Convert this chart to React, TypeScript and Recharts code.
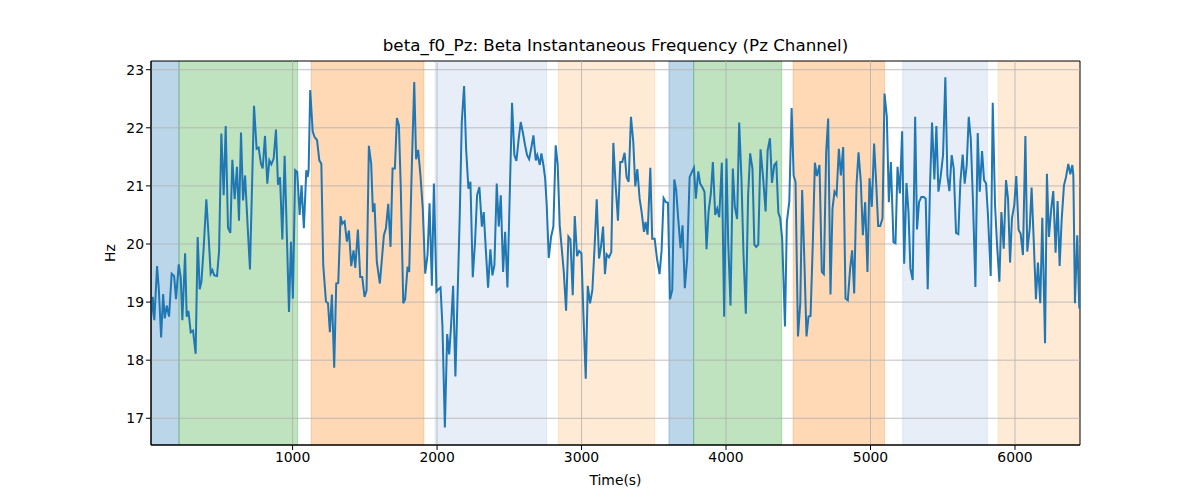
import React from 'react';
import { LineChart, Line, XAxis, YAxis, ReferenceLine, ReferenceArea } from 'recharts';

// time (s) and beta instantaneous frequency (Hz)
const times = [
  20, 32, 43, 62, 74, 90, 104, 115, 129, 145, 163, 180, 193, 212, 226, 237, 256, 267, 279, 295,
  311, 329, 343, 357, 369, 385, 403, 419, 433, 445, 458, 477, 491, 507, 523, 537, 553, 569, 583, 599,
  615, 629, 643, 657, 671, 691, 705, 733, 751, 765, 781, 793, 809, 825, 839, 853, 869, 885, 899, 913,
  929, 945, 975, 989, 1002, 1018, 1032, 1049, 1062, 1078,
  1095, 1104, 1111, 1122, 1139, 1152, 1169, 1185, 1199, 1212, 1231, 1245, 1258, 1272, 1288, 1302, 1316, 1332, 1344, 1360,
  1376, 1390, 1406, 1422, 1434, 1452, 1468, 1482, 1498, 1512, 1528, 1544, 1556, 1567, 1583, 1604, 1632, 1646, 1662, 1678,
  1692, 1708, 1722, 1736, 1749, 1766, 1779, 1796, 1807, 1826, 1842, 1855, 1869, 1885, 1901, 1918, 1934, 1948, 1964, 1978,
  1996, 2010, 2024, 2037, 2054, 2070, 2084, 2097, 2111,
  2127, 2157, 2171, 2187, 2201, 2217, 2231, 2247, 2263, 2277, 2293, 2310, 2323, 2337, 2353, 2369, 2383, 2397, 2413, 2427,
  2441, 2457, 2471, 2487, 2519, 2535, 2549, 2565, 2579, 2593, 2609, 2623, 2637, 2651, 2667, 2683, 2694, 2711, 2722, 2736,
  2748, 2759, 2773, 2789, 2805, 2821, 2835, 2849, 2863, 2877, 2893, 2909, 2923, 2939, 2953, 2969, 2983, 2999, 3013, 3029,
  3043, 3059, 3075, 3091, 3105, 3121, 3135, 3149,
  3162, 3174, 3190, 3206, 3220, 3236, 3252, 3268, 3282, 3298, 3312, 3326, 3342, 3358, 3372, 3386, 3402, 3416, 3432, 3443,
  3457, 3476, 3489, 3506, 3522, 3540, 3554, 3568, 3584, 3598, 3612, 3628, 3642, 3655, 3669, 3685, 3699, 3715, 3731, 3748,
  3764, 3778, 3791, 3808, 3821, 3835, 3851, 3865, 3879, 3895, 3909, 3925, 3939, 3953, 3971, 3987, 4003, 4015, 4031, 4047,
  4061, 4077, 4091, 4107, 4121, 4137, 4153, 4167, 4183,
  4196, 4209, 4223, 4239, 4258, 4274, 4288, 4304, 4318, 4334, 4348, 4362, 4375, 4389, 4408, 4421, 4438, 4454, 4468, 4481,
  4498, 4514, 4527, 4541, 4557, 4571, 4585, 4601, 4615, 4629, 4647, 4663, 4677, 4693, 4707, 4723, 4737, 4751, 4765, 4781,
  4795, 4811, 4827, 4843, 4859, 4873, 4887, 4903, 4917, 4933, 4947, 4963, 4979, 4993, 5009, 5025, 5039, 5053, 5067, 5083,
  5097, 5113, 5127, 5141, 5159, 5173, 5187, 5203, 5219,
  5233, 5249, 5263, 5276, 5292, 5309, 5322, 5336, 5352, 5369, 5382, 5396, 5412, 5426, 5442, 5456, 5470, 5484, 5502, 5518,
  5532, 5546, 5562, 5576, 5592, 5608, 5622, 5638, 5652, 5666, 5680, 5694, 5710, 5726, 5742, 5756, 5772, 5786, 5800, 5813,
  5832, 5846, 5862, 5876, 5892, 5906, 5922, 5938, 5952, 5966, 5979, 5995, 6009, 6025, 6039, 6055, 6072, 6085, 6102, 6115,
  6131, 6145, 6159, 6175, 6189, 6208, 6221, 6235, 6251, 6265, 6281, 6295, 6309, 6323, 6339, 6353, 6369, 6383, 6397, 6404,
  6415, 6431, 6445,
];

const freq = [
  18.7, 19.09, 18.69, 19.62, 19.23, 18.39, 19.14, 18.72, 18.94, 18.75, 19.49, 19.45, 19.05, 19.65, 19.42, 18.69, 19.84, 18.75, 18.85, 18.48,
  18.51, 18.11, 20.12, 19.22, 19.35, 19.95, 20.77, 20.12, 19.49, 19.55, 19.46, 19.45, 19.87, 21.9, 20.84, 22.03, 20.28, 20.19, 21.45, 20.77,
  21.33, 20.4, 21.92, 20.75, 21.18, 20.21, 19.56, 22.38, 21.64, 21.66, 21.38, 21.3, 21.86, 21.04, 21.44, 21.37, 21.47, 21.97, 21.02, 21.15,
  20.08, 21.52, 18.83, 20.04, 19.06, 21.27, 21.24, 20.5, 21.01, 20.27,
  21.27, 21.15, 21.27, 22.65, 21.94, 21.84, 21.79, 21.44, 21.38, 19.64, 19.01, 18.98, 18.48, 19.13, 17.87, 19.32, 19.33, 20.48, 20.35, 20.39,
  20.04, 20.23, 19.62, 19.89, 19.59, 20.25, 19.43, 19.43, 19.09, 19.2, 21.69, 21.38, 20.55, 20.7, 19.69, 19.32, 20.15, 20.27, 20.69, 19.95,
  21.3, 21.3, 22.17, 22.04, 20.95, 18.98, 19.05, 19.61, 19.52, 21.41, 22.79, 21.46, 21.62, 21.18, 20.61, 19.49, 19.81, 20.7, 19.28, 21.04,
  19.18, 19.22, 19.25, 18.6, 16.84, 18.45, 18.1, 18.6, 19.28,
  17.72, 20.5, 22.1, 22.72, 21.64, 20.95, 21.07, 19.43, 20.04, 20.84, 20.98, 20.3, 20.55, 19.92, 19.25, 19.91, 19.46, 19.64, 21.04, 20.3,
  20.84, 19.52, 20.21, 19.25, 22.43, 21.53, 21.43, 21.81, 22.1, 21.93, 21.7, 21.53, 21.46, 21.64, 21.87, 21.44, 21.53, 21.36, 21.56, 21.36,
  21.13, 20.67, 19.76, 20.12, 20.3, 21.7, 21.36, 20.32, 19.92, 19.52, 18.85, 20.13, 20.08, 19.12, 20.48, 19.79, 19.88, 19.84, 18.78, 17.68,
  19.28, 18.98, 19.21, 19.99, 20.77, 19.75, 19.96, 20.3,
  19.48, 19.82, 19.77, 19.86, 21.74, 21.01, 20.4, 21.41, 21.41, 21.57, 21.15, 21.07, 22.19, 21.76, 20.99, 21.29, 20.78, 20.55, 20.21, 20.38,
  20.16, 21.31, 20.09, 20.09, 19.75, 19.48, 19.89, 20.79, 20.72, 20.71, 19.05, 19.21, 21.11, 20.93, 20.44, 19.93, 20.32, 19.24, 19.75, 21.15,
  21.24, 21.31, 20.78, 21.25, 21.04, 20.98, 20.9, 19.91, 20.55, 20.87, 21.41, 20.5, 20.61, 20.46, 21.4, 18.75, 21.47, 20.04, 18.94, 21.3,
  20.64, 20.43, 22.09, 21.1, 19.81, 18.8, 20.84, 21.56, 21.3,
  19.99, 19.95, 19.99, 21.63, 21.1, 20.56, 21.61, 21.82, 21.05, 21.36, 21.4, 20.54, 20.44, 20.07, 18.58, 20.38, 20.73, 22.34, 21.18, 21.07,
  18.41, 18.98, 20.93, 19.81, 18.41, 18.75, 18.76, 20.04, 21.4, 21.17, 21.36, 19.52, 19.48, 21.58, 22.16, 19.13, 20.61, 20.9, 20.84, 21.64,
  21.18, 21.67, 19.06, 19.03, 19.58, 19.89, 19.15, 21.01, 21.58, 21.07, 20.15, 20.72, 19.52, 21.13, 20.64, 21.73, 21.07, 20.31, 20.31, 20.44,
  22.59, 22.19, 20.72, 21.41, 20.03, 20.01, 21.33, 20.87, 21.94,
  19.66, 21.05, 20.55, 19.58, 19.38, 22.19, 20.25, 20.72, 20.81, 20.81, 20.78, 19.22, 21.01, 22.09, 21.11, 22.03, 20.9, 21.13, 21.53, 22.87,
  21.18, 20.91, 21.53, 21.3, 20.19, 20.17, 21.07, 21.54, 21.04, 21.36, 22.19, 21.81, 20.67, 19.26, 21.91, 20.9, 21.6, 21.1, 21.04, 20.5,
  19.45, 22.43, 20.67, 19.98, 19.35, 20.55, 19.92, 21.1, 20.78, 19.68, 20.44, 20.67, 21.17, 20.24, 20.18, 19.81, 21.86, 19.87, 20.27, 20.97,
  19.98, 19.05, 19.68, 18.98, 20.45, 18.29, 21.21, 20.12, 20.61, 20.91, 19.85, 20.74, 19.62, 20.41, 21.01, 21.15, 21.38, 21.2, 21.36, 21.18,
  18.98, 20.15, 18.89,
];

// shaded segments
const spanStart = [20, 214, 1129, 1987, 2840, 3605, 3776, 4465, 5223, 5883];
const spanEnd = [214, 1035, 1909, 2759, 3506, 3776, 4385, 5097, 5809, 6450];
const spanKind = ['blue', 'green', 'orange', 'lightblue', 'lightorange', 'blue', 'green', 'orange', 'lightblue', 'lightorange'];

const xTicks = [1000, 2000, 3000, 4000, 5000, 6000];
const yTicks = [17, 18, 19, 20, 21, 22, 23];

const spanColors: Record<string, string> = {
  blue: '#1f77b4',
  green: '#2ca02c',
  orange: '#ff7f0e',
  lightblue: '#aec7e8',
  lightorange: '#ffbb78',
};

const data = times.map((t, i) => ({ t, hz: freq[i] }));

const font = '"DejaVu Sans", sans-serif';

export default function App() {
  return (
    <div style={{ position: 'absolute', left: 0, top: 0, width: 1200, height: 500, background: '#fff', fontFamily: font }}>
      <div style={{ position: 'absolute', left: 151, width: 929, top: 35, textAlign: 'center', fontSize: 16.7, lineHeight: '20px', color: '#000' }}>
        beta_f0_Pz: Beta Instantaneous Frequency (Pz Channel)
      </div>
      <div style={{ position: 'absolute', left: 151, width: 929, top: 472, textAlign: 'center', fontSize: 13.9, lineHeight: '17px', color: '#000' }}>
        Time(s)
      </div>
      <div style={{ position: 'absolute', left: 110, top: 253, transform: 'translate(-50%, -50%) rotate(-90deg)', fontSize: 13.9, lineHeight: '17px', color: '#000' }}>
        Hz
      </div>
      <LineChart width={1200} height={500} data={data} margin={{ top: 61, right: 120, bottom: 25, left: 91 }}>
        {spanStart.map((s, i) => (
          <ReferenceArea
            key={`span-${i}`}
            x1={s}
            x2={spanEnd[i]}
            fill={spanColors[spanKind[i]]}
            fillOpacity={0.3}
            stroke={spanColors[spanKind[i]]}
            strokeOpacity={0.3}
            ifOverflow="hidden"
          />
        ))}
        {/* grid drawn above the spans, like matplotlib */}
        {xTicks.map((v) => (
          <ReferenceLine key={`gx-${v}`} x={v} stroke="#b0b0b0" strokeWidth={0.8} />
        ))}
        {yTicks.map((v) => (
          <ReferenceLine key={`gy-${v}`} y={v} stroke="#b0b0b0" strokeWidth={0.8} />
        ))}
        <XAxis
          dataKey="t"
          type="number"
          domain={[20, 6450]}
          ticks={xTicks}
          allowDataOverflow
          height={30}
          tickSize={5}
          tickLine={{ stroke: '#000' }}
          axisLine={{ stroke: '#000' }}
          tick={{ fill: '#000', fontSize: 13.9, fontFamily: font }}
        />
        <YAxis
          type="number"
          domain={[16.54, 23.15]}
          ticks={yTicks}
          allowDataOverflow
          width={60}
          tickSize={5}
          tickLine={{ stroke: '#000' }}
          axisLine={{ stroke: '#000' }}
          tick={{ fill: '#000', fontSize: 13.9, fontFamily: font }}
        />
        <ReferenceArea x1={20} x2={6450} y1={16.54} y2={23.15} fill="none" stroke="#000" strokeWidth={1} ifOverflow="visible" />
        <Line type="linear" dataKey="hz" stroke="#1f77b4" strokeWidth={2} dot={false} isAnimationActive={false} />
      </LineChart>
    </div>
  );
}
